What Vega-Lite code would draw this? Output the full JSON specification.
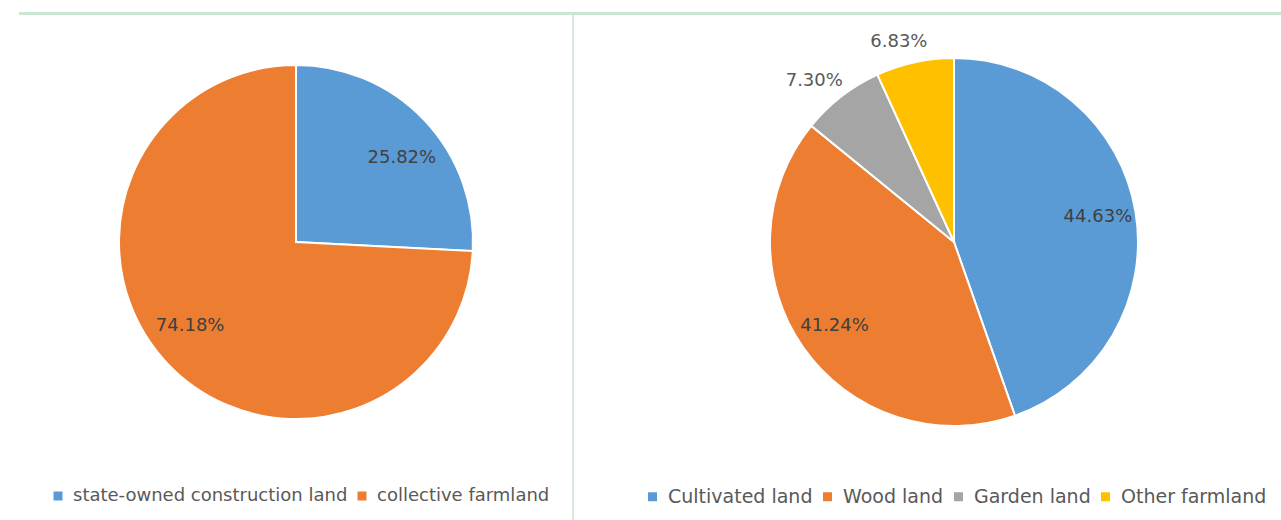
{
  "$schema": "https://vega.github.io/schema/vega-lite/v6.json",
  "background": "white",
  "padding": {"left": 18, "top": 12, "right": 0, "bottom": 0},
  "config": {
    "view": {"stroke": null},
    "font": "DejaVu Sans",
    "legend": {
      "orient": "none",
      "direction": "horizontal",
      "title": null,
      "symbolType": "square",
      "symbolSize": 81,
      "symbolStrokeWidth": 0,
      "labelFont": "DejaVu Sans",
      "labelFontSize": 18,
      "labelColor": "#595959",
      "labelOffset": 6,
      "columnPadding": 5,
      "padding": 0,
      "labelLimit": 400
    }
  },
  "spacing": 0,
  "bounds": "flush",
  "vconcat": [
    {
      "width": 1263,
      "height": 3,
      "view": {"fill": "#c8e6d0", "stroke": null},
      "data": {"values": []},
      "mark": "point"
    },
    {
      "spacing": 52,
      "bounds": "full",
      "resolve": {"scale": {"color": "independent", "theta": "independent"}, "legend": {"color": "independent"}},
      "hconcat": [
        {
          "spacing": 0,
          "bounds": "flush",
          "vconcat": [
            {
              "width": 554,
              "height": 454,
              "view": {"stroke": "#dde8e3", "strokeWidth": 2, "strokeDash": [0, 554, 454, 1008]},
              "data": {"values": [
                {"i": 1, "land": "state-owned construction land", "share": 0.2582},
                {"i": 2, "land": "collective farmland", "share": 0.7418}
              ]},
              "resolve": {"scale": {"theta": "independent"}},
              "layer": [
                {
                  "mark": {"type": "arc", "outerRadius": 177, "stroke": "white", "strokeWidth": 2},
                  "encoding": {
                    "theta": {"field": "share", "type": "quantitative", "stack": true},
                    "order": {"field": "i", "type": "quantitative"},
                    "color": {
                      "field": "land",
                      "type": "nominal",
                      "scale": {"domain": ["state-owned construction land", "collective farmland"], "range": ["#5b9bd5", "#ed7d31"]},
                      "legend": {"legendX": 30, "legendY": 472, "symbolType": "square"}
                    }
                  }
                },
                {
                  "mark": {"type": "text", "radius": 135, "fontSize": 18, "fill": "#404040"},
                  "encoding": {
                    "theta": {"field": "share", "type": "quantitative", "stack": true, "scale": {"range": [0.09, 6.3732]}},
                    "order": {"field": "i", "type": "quantitative"},
                    "text": {"field": "share", "type": "quantitative", "format": ".2%"}
                  }
                }
              ]
            },
            {
              "width": 554,
              "height": 51,
              "view": {"stroke": "#dde8e3", "strokeWidth": 2, "strokeDash": [0, 554, 51, 605]},
              "data": {"values": []},
              "mark": "point"
            }
          ]
        },
        {
          "width": 656,
          "height": 454,
          "data": {"values": [
            {"i": 1, "type": "Cultivated land", "share": 0.4463},
            {"i": 2, "type": "Wood land", "share": 0.4124},
            {"i": 3, "type": "Garden land", "share": 0.0730},
            {"i": 4, "type": "Other farmland", "share": 0.0683}
          ]},
          "encoding": {
            "theta": {"field": "share", "type": "quantitative", "stack": true},
            "order": {"field": "i", "type": "quantitative"}
          },
          "layer": [
            {
              "mark": {"type": "arc", "outerRadius": 184, "stroke": "white", "strokeWidth": 2},
              "encoding": {
                "color": {
                  "field": "type",
                  "type": "nominal",
                  "scale": {"domain": ["Cultivated land", "Wood land", "Garden land", "Other farmland"], "range": ["#5b9bd5", "#ed7d31", "#a5a5a5", "#ffc000"]},
                  "legend": {"legendX": 17, "legendY": 472, "symbolType": "square", "labelFontSize": 19}
                }
              }
            },
            {
              "mark": {"type": "text", "radius": 146, "fontSize": 18, "fill": "#404040"},
              "encoding": {
                "text": {"field": "share", "type": "quantitative", "format": ".2%"},
                "opacity": {"condition": {"test": "datum.i > 2", "value": 0}, "value": 1}
              }
            },
            {
              "mark": {"type": "text", "radius": 212, "fontSize": 18, "fill": "#595959", "dx": -10, "dy": 7},
              "encoding": {
                "text": {"field": "share", "type": "quantitative", "format": ".2%"},
                "opacity": {"condition": {"test": "datum.i > 2", "value": 1}, "value": 0}
              }
            }
          ]
        }
      ]
    }
  ]
}
